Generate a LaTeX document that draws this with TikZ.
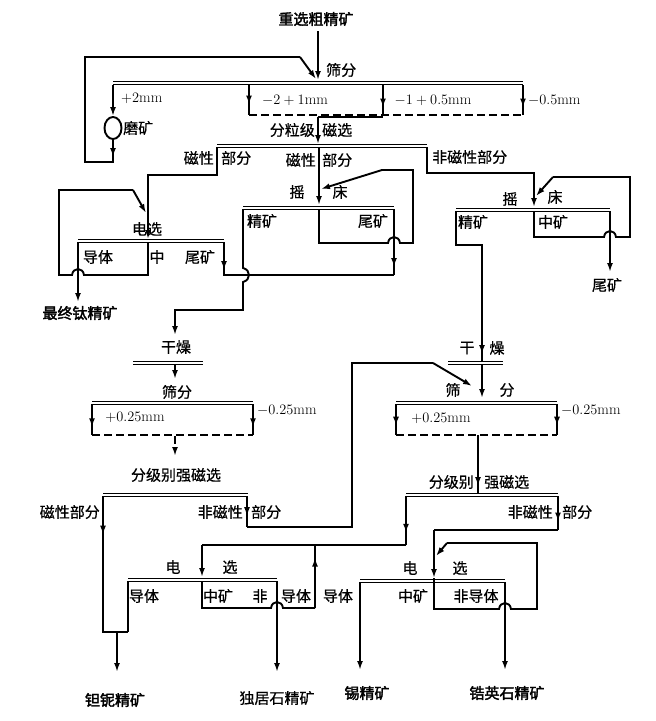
\documentclass[tikz,border=0pt]{standalone}
\usepackage{fontspec}
\newfontfamily\cjk{Noto Sans CJK SC}[FakeBold=0.6]
\newfontfamily\cjkb{Noto Sans CJK SC}[FakeBold=2.2]
\usetikzlibrary{arrows.meta,decorations.markings,shapes.geometric}
\begin{document}
\begin{tikzpicture}[x=1pt,y=-1pt,
  ln/.style={line width=1.9pt},
  dsh/.style={line width=1.9pt, dash pattern=on 8pt off 4pt},
  sep/.style={double, double distance=1.4pt, line width=1.3pt},
  ar/.style={-{Latex[length=9pt,width=6pt]}},
  midarr/.style={postaction={decorate}, decoration={markings, mark=at position #1 with {\arrow{Latex[length=9pt,width=6pt]}}}},
  midarr/.default=0.6,
  cn/.style={inner sep=0pt, font=\cjk\fontsize{15}{17}\selectfont},
  cb/.style={inner sep=0pt, font=\cjkb\fontsize{15}{17}\selectfont},
  mm/.style={inner sep=0pt, font=\fontsize{15}{17}\selectfont}]
\fill[white] (0,0) rectangle (656,721);
\useasboundingbox (0,0) rectangle (656,721);

% ---------- top screen ----------
\node[cb] (feed) at (316,19) {重选粗精矿};
\coordinate (f0) at (318,31);
\coordinate (f1) at (318,80);
\draw[ln,ar] (f0) -- (f1);
\node[cn,anchor=west] (screen1) at (326,70) {筛分};
\coordinate (s1L) at (113,83); \coordinate (s1R) at (523,83);
\draw[sep] (s1L) -- (s1R);
\node[draw,ln,ellipse,minimum width=17pt,minimum height=22pt,inner sep=0pt] (mill) at (113,128) {};
\draw[ln,ar] (113,85) -- (mill.north);
\node[mm,anchor=west] (p2) at (121,98) {$+2$mm};
\node[cn,anchor=west] (millt) at (123,128) {磨矿};
\draw[ln,ar] (mill.south) -- (113,157);
\coordinate (rc1) at (300,57); \coordinate (rc2) at (316,79);
\draw[ln] (113,152) -- (113,162) -- (85,162) -- (85,57) -- (rc1);
\draw[ln,ar] (rc1) -- (rc2);
% fraction boxes
\draw[ln,midarr=0.65] (249,85) -- (249,115);
\draw[ln,midarr=0.75] (383,85) -- (383,115);
\draw[ln,midarr=0.75] (523,85) -- (523,115);
\draw[dsh] (249,115) -- (523,115);
\draw[ln] (318,117) -- (383,117);
\node[mm] (fr1) at (295,100) {$-2+1$mm};
\node[mm] (fr2) at (433,100) {$-1+0.5$mm};
\node[mm,anchor=west] (fr3) at (528,100) {$-0.5$mm};

% ---------- magnetic separation ----------
\coordinate (m0) at (318,117); \coordinate (m1) at (318,144);
\draw[ln,ar] (m0) -- (m1);
\node[cn,anchor=east] at (315,130) {分粒级};
\node[cn,anchor=west] at (322,130) {磁选};
\coordinate (msL) at (217,146); \coordinate (msR) at (427,146);
\draw[sep] (msL) -- (msR);
\draw[ln,ar] (217,147) -- (217,175) -- (148,175) -- (148,239);
\node[cn,anchor=east] at (214,158) {磁性};
\node[cn,anchor=west] at (221,158) {部分};
\draw[ln,ar] (319,147) -- (319,205);
\node[cn,anchor=east] at (316,160) {磁性};
\node[cn,anchor=west] at (322,160) {部分};
\draw[ln,ar] (427,147) -- (427,173) -- (534,173) -- (534,207);
\node[cn,anchor=west] at (432,157) {非磁性部分};

% ---------- middle shaking table ----------
\node[cn] at (297,192) {摇};
\node[cn] at (340,192) {床};
\draw[sep] (243,208) -- (394,208);
\draw[ln,ar] (243,209) -- (243,268) .. controls (251,270) and (251,280) .. (243,282) -- (243,310) -- (175,310) -- (175,335);
\draw[ln] (319,209) -- (319,243) -- (388,243) .. controls (389,235) and (399,235) .. (400,243) -- (413,243) -- (413,170) -- (382,170);
\draw[ln,ar] (382,170) -- (321,189);
\draw[ln,ar] (394,209) -- (394,267);
\draw[ln] (394,262) -- (394,275);
\draw[ln] (223,275) -- (394,275);
\node[cn] at (262,221) {精矿};
\node[cn] at (373,221) {尾矿};

% ---------- left electrostatic separation ----------
\node[cn] at (147,229) {电选};
\draw[sep] (78,241) -- (224,241);
\draw[ln,ar] (78,242) -- (78,302);
\node[cb] at (80,313) {最终钛精矿};
\draw[ln] (148,242) -- (148,275) -- (84,275) .. controls (83,267) and (73,267) .. (72,275) -- (59,275) -- (59,190) -- (133,190);
\draw[ln,ar] (133,190) -- (146,213);
\draw[ln,ar] (224,242) -- (224,270);
\draw[ln] (224,266) -- (224,275);
\node[cn] at (98,257) {导体};
\node[cn] at (157,257) {中};
\node[cn] at (200,257) {尾矿};

% ---------- right shaking table ----------
\node[cn] at (510,199) {摇};
\node[cn] at (555,197) {床};
\draw[sep] (456,210) -- (610,210);
\draw[ln] (456,211) -- (456,245) -- (482,245) -- (482,362);
\draw[ln,ar] (482,330) -- (482,354);
\node[cn] at (473,222) {精矿};
\node[cn] at (553,222) {中矿};
\draw[ln] (534,211) -- (534,237) -- (604,237) .. controls (605,229) and (615,229) .. (616,237) -- (630,237) -- (630,177) -- (553,177);
\draw[ln,ar] (553,177) -- (536,196);
\draw[ln,ar] (610,211) -- (610,272);
\node[cn] at (607,285) {尾矿};

% ---------- right drying & screening ----------
\node[cn] at (467,348) {干};
\node[cn] at (497,348) {燥};
\draw[sep] (448,363) -- (503,363);
\draw[ln,ar] (482,364) -- (482,398);
\node[cn] at (453,390) {筛};
\node[cn] at (507,390) {分};
\draw[sep] (396,403) -- (557,403);
\draw[ln,midarr=0.7] (396,404) -- (396,435);
\draw[ln,midarr=0.7] (557,404) -- (557,435);
\draw[dsh] (396,435) -- (557,435);
\node[mm] at (441,418) {$+0.25$mm};
\node[mm,anchor=west] at (561,410) {$-0.25$mm};
\draw[ln,ar] (478,435) -- (478,486);
\draw[ln] (478,480) -- (478,494);
\node[cn,anchor=east] at (474,482) {分级别};
\node[cn,anchor=west] at (484,482) {强磁选};
\draw[sep] (406,495) -- (558,495);
\node[cn,anchor=east] at (553,512) {非磁性};
\node[cn,anchor=west] at (562,512) {部分};
\draw[ln,midarr=0.75] (406,496) -- (406,545);
\draw[ln] (406,545) -- (202,545);
\draw[ln,ar] (202,545) -- (202,577);
\draw[ln,midarr=0.75] (558,496) -- (558,530);
\draw[ln] (558,530) -- (434,530);
\draw[ln,ar] (434,530) -- (434,578);

% recycle from left non-magnetic to right screen
\draw[ln,midarr=0.65] (247,496) -- (247,527);
\draw[ln] (247,527) -- (352,527) -- (352,363) -- (433,363);
\draw[ln,ar] (433,363) -- (472,386);

% ---------- left drying & screening ----------
\node[cn] at (176,347) {干燥};
\draw[sep] (133,363) -- (203,363);
\draw[ln,ar] (175,364) -- (175,379);
\node[cn] at (177,392) {筛分};
\draw[sep] (92,403) -- (253,403);
\draw[ln,midarr=0.75] (92,404) -- (92,435);
\draw[ln,midarr=0.75] (253,404) -- (253,435);
\draw[dsh] (92,435) -- (253,435);
\node[mm] at (135,417) {$+0.25$mm};
\node[mm,anchor=west] at (257,410) {$-0.25$mm};
\draw[dsh,ar] (175,436) -- (175,456);
\node[cn] at (176,475) {分级别强磁选};
\draw[sep] (103,495) -- (248,495);
\node[cn,anchor=east] at (100,512) {磁性部分};
\node[cn,anchor=east] at (243,512) {非磁性};
\node[cn,anchor=west] at (251,512) {部分};
\draw[ln,midarr=0.24] (103,496) -- (103,632) -- (128,632);
\draw[ln,ar] (117,632) -- (117,672);
\node[cb] at (115,700) {钽铌精矿};

% ---------- left electrostatic (bottom) ----------
\node[cn] at (173,567) {电};
\node[cn] at (230,567) {选};
\draw[sep] (128,580) -- (277,580);
\draw[ln] (128,581) -- (128,632);
\draw[ln] (202,581) -- (202,608) -- (271,608) .. controls (272,600) and (282,600) .. (283,608) -- (315,608);
\draw[ln,midarr=0.8] (315,608) -- (315,545);
\draw[ln,ar] (277,581) -- (277,672);
\node[cn] at (277,698) {独居石精矿};
\node[cn] at (144,596) {导体};
\node[cn] at (218,596) {中矿};
\node[cn] at (260,596) {非};
\node[cn] at (296,596) {导体};

% ---------- right electrostatic (bottom) ----------
\node[cn] at (410,568) {电};
\node[cn] at (460,568) {选};
\draw[sep] (360,581) -- (505,581);
\draw[ln,ar] (360,582) -- (360,670);
\node[cb] at (367,693) {锡精矿};
\draw[ln] (434,578) -- (434,609) -- (499,609) .. controls (500,601) and (510,601) .. (511,609) -- (537,609) -- (537,543) -- (447,543);
\draw[ln,ar] (447,543) -- (436,556);
\draw[ln,ar] (505,582) -- (505,670);
\node[cb] at (507,693) {锆英石精矿};
\node[cn] at (338,596) {导体};
\node[cn] at (413,596) {中矿};
\node[cn] at (476,596) {非导体};
\end{tikzpicture}
\end{document}
